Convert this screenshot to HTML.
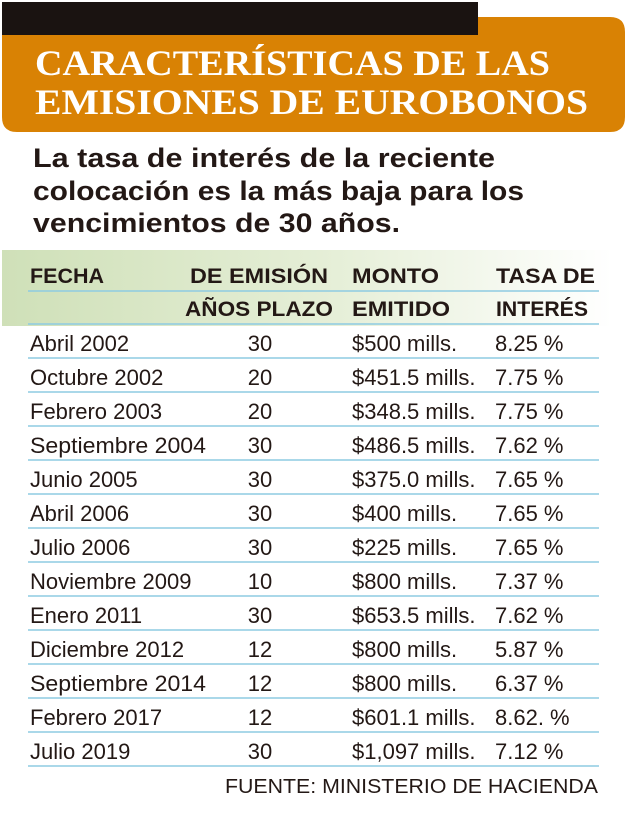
<!DOCTYPE html>
<html><head><meta charset="utf-8"><style>
html,body{margin:0;padding:0;background:#fff;}
svg{display:block}
</style></head><body>
<svg width="627" height="818" viewBox="0 0 627 818" xmlns="http://www.w3.org/2000/svg">
<defs>
<linearGradient id="g" x1="0" x2="1" y1="0" y2="0">
<stop offset="0" stop-color="#cfe0b8"/>
<stop offset="0.55" stop-color="#e6efd8"/>
<stop offset="1" stop-color="#ffffff"/>
</linearGradient>
</defs>
<rect x="2" y="2" width="476" height="34" fill="#1a1311"/>
<path d="M2 35 H478 V17 H610 Q625 17 625 32 V117 Q625 132 610 132 H17 Q2 132 2 117 Z" fill="#d98204"/>
<g font-family="Liberation Serif, serif" font-weight="bold" fill="#fff" font-size="36">
<text x="35" y="75" textLength="515" lengthAdjust="spacingAndGlyphs">CARACTERÍSTICAS DE LAS</text>
<text x="35" y="114" textLength="553" lengthAdjust="spacingAndGlyphs">EMISIONES DE EUROBONOS</text>
</g>
<g font-family="Liberation Sans, sans-serif" font-weight="bold" fill="#231815" font-size="27">
<text x="33" y="167" textLength="462" lengthAdjust="spacingAndGlyphs">La tasa de interés de la reciente</text>
<text x="33" y="200" textLength="491" lengthAdjust="spacingAndGlyphs">colocación es la más baja para los</text>
<text x="33" y="232" textLength="367" lengthAdjust="spacingAndGlyphs">vencimientos de 30 años.</text>
</g>
<rect x="2" y="250" width="610" height="76" fill="url(#g)"/>
<g font-family="Liberation Sans, sans-serif" font-weight="bold" fill="#231815" font-size="21">
<text x="30" y="283" textLength="74" lengthAdjust="spacingAndGlyphs">FECHA</text>
<text x="190" y="283" textLength="138" lengthAdjust="spacingAndGlyphs">DE EMISIÓN</text>
<text x="352" y="283" textLength="87" lengthAdjust="spacingAndGlyphs">MONTO</text>
<text x="496" y="283" textLength="99" lengthAdjust="spacingAndGlyphs">TASA DE</text>
<text x="185" y="316" textLength="148" lengthAdjust="spacingAndGlyphs">AÑOS PLAZO</text>
<text x="352" y="316" textLength="98" lengthAdjust="spacingAndGlyphs">EMITIDO</text>
<text x="496" y="316" textLength="92" lengthAdjust="spacingAndGlyphs">INTERÉS</text>
</g>
<g stroke="#8ecbe2" stroke-width="1.6">
<line x1="28" x2="599" y1="291" y2="291"/>
<line x1="28" x2="599" y1="324" y2="324"/>
<line x1="28" x2="599" y1="358" y2="358"/>
<line x1="28" x2="599" y1="392" y2="392"/>
<line x1="28" x2="599" y1="426" y2="426"/>
<line x1="28" x2="599" y1="460" y2="460"/>
<line x1="28" x2="599" y1="494" y2="494"/>
<line x1="28" x2="599" y1="528" y2="528"/>
<line x1="28" x2="599" y1="562" y2="562"/>
<line x1="28" x2="599" y1="596" y2="596"/>
<line x1="28" x2="599" y1="630" y2="630"/>
<line x1="28" x2="599" y1="664" y2="664"/>
<line x1="28" x2="599" y1="698" y2="698"/>
<line x1="28" x2="599" y1="732" y2="732"/>
<line x1="28" x2="599" y1="766" y2="766"/>
</g>
<g font-family="Liberation Sans, sans-serif" fill="#231815" font-size="22">
<text x="30" y="351">Abril 2002</text><text x="260" y="351" text-anchor="middle">30</text><text x="352" y="351">$500 mills.</text><text x="495" y="351">8.25 %</text>
<text x="30" y="385">Octubre 2002</text><text x="260" y="385" text-anchor="middle">20</text><text x="352" y="385">$451.5 mills.</text><text x="495" y="385">7.75 %</text>
<text x="30" y="419">Febrero 2003</text><text x="260" y="419" text-anchor="middle">20</text><text x="352" y="419">$348.5 mills.</text><text x="495" y="419">7.75 %</text>
<text x="30" y="453" textLength="176" lengthAdjust="spacingAndGlyphs">Septiembre 2004</text><text x="260" y="453" text-anchor="middle">30</text><text x="352" y="453">$486.5 mills.</text><text x="495" y="453">7.62 %</text>
<text x="30" y="487">Junio 2005</text><text x="260" y="487" text-anchor="middle">30</text><text x="352" y="487">$375.0 mills.</text><text x="495" y="487">7.65 %</text>
<text x="30" y="521">Abril 2006</text><text x="260" y="521" text-anchor="middle">30</text><text x="352" y="521">$400 mills.</text><text x="495" y="521">7.65 %</text>
<text x="30" y="555">Julio 2006</text><text x="260" y="555" text-anchor="middle">30</text><text x="352" y="555">$225 mills.</text><text x="495" y="555">7.65 %</text>
<text x="30" y="589">Noviembre 2009</text><text x="260" y="589" text-anchor="middle">10</text><text x="352" y="589">$800 mills.</text><text x="495" y="589">7.37 %</text>
<text x="30" y="623">Enero 2011</text><text x="260" y="623" text-anchor="middle">30</text><text x="352" y="623">$653.5 mills.</text><text x="495" y="623">7.62 %</text>
<text x="30" y="657">Diciembre 2012</text><text x="260" y="657" text-anchor="middle">12</text><text x="352" y="657">$800 mills.</text><text x="495" y="657">5.87 %</text>
<text x="30" y="691" textLength="176" lengthAdjust="spacingAndGlyphs">Septiembre 2014</text><text x="260" y="691" text-anchor="middle">12</text><text x="352" y="691">$800 mills.</text><text x="495" y="691">6.37 %</text>
<text x="30" y="725">Febrero 2017</text><text x="260" y="725" text-anchor="middle">12</text><text x="352" y="725">$601.1 mills.</text><text x="495" y="725">8.62. %</text>
<text x="30" y="759">Julio 2019</text><text x="260" y="759" text-anchor="middle">30</text><text x="352" y="759">$1,097 mills.</text><text x="495" y="759">7.12 %</text>
<text x="225" y="793" font-size="20" textLength="373" lengthAdjust="spacingAndGlyphs">FUENTE: MINISTERIO DE HACIENDA</text>
</g>
</svg>
</body></html>
